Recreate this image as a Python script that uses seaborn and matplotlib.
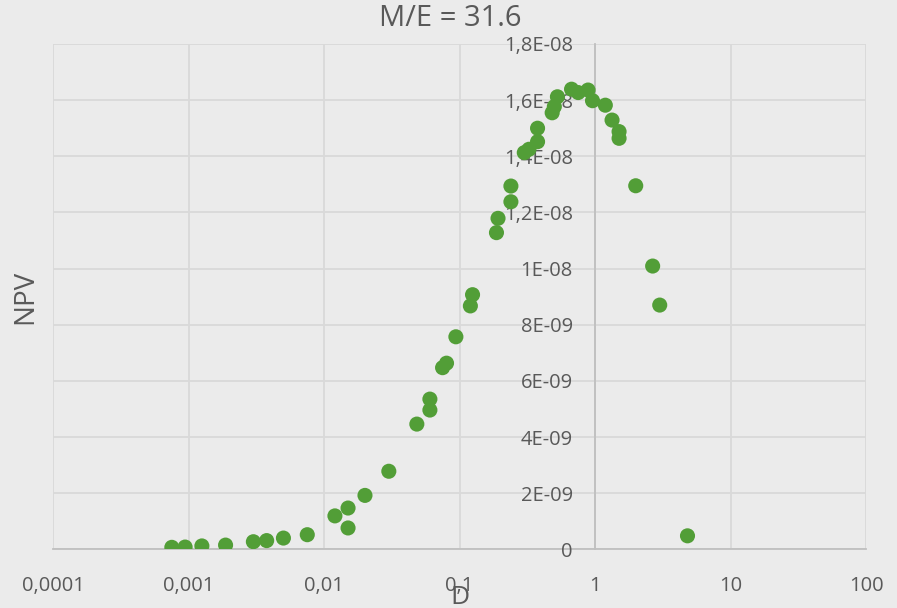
import matplotlib
matplotlib.use("Agg")
import matplotlib.pyplot as plt
import seaborn as sns
import pandas as pd
from matplotlib.ticker import FixedLocator, FixedFormatter

# Scatter data: D values and corresponding NPV
d_values = [0.00075, 0.00094, 0.00125, 0.00187, 0.0030, 0.00376, 0.0050, 0.0075,
            0.0120, 0.0150, 0.0150, 0.0200, 0.0300, 0.0483, 0.0603, 0.0603,
            0.0748, 0.0800, 0.0938, 0.120, 0.1245, 0.187, 0.192, 0.239, 0.239,
            0.300, 0.325, 0.376, 0.376, 0.482, 0.500, 0.527, 0.670, 0.750,
            0.887, 0.957, 1.19, 1.334, 1.503, 1.503, 1.995, 2.66, 3.0, 4.81]
npv_values = [0.07e-9, 0.08e-9, 0.12e-9, 0.15e-9, 0.27e-9, 0.31e-9, 0.40e-9, 0.52e-9,
              1.19e-9, 1.47e-9, 0.76e-9, 1.92e-9, 2.78e-9, 4.46e-9, 4.96e-9, 5.35e-9,
              6.47e-9, 6.63e-9, 7.57e-9, 8.67e-9, 9.07e-9, 11.28e-9, 11.79e-9, 12.38e-9, 12.94e-9,
              14.13e-9, 14.25e-9, 14.52e-9, 15.00e-9, 15.55e-9, 15.77e-9, 16.12e-9, 16.39e-9, 16.27e-9,
              16.36e-9, 15.98e-9, 15.82e-9, 15.29e-9, 14.88e-9, 14.64e-9, 12.95e-9, 10.09e-9, 8.70e-9, 0.48e-9]

x_ticks = [0.0001, 0.001, 0.01, 0.1, 1, 10, 100]
x_tick_labels = ["0,0001", "0,001", "0,01", "0,1", "1", "10", "100"]
y_ticks = [0, 2e-9, 4e-9, 6e-9, 8e-9, 1e-8, 1.2e-8, 1.4e-8, 1.6e-8, 1.8e-8]
y_tick_labels = ["0", "2E-09", "4E-09", "6E-09", "8E-09", "1E-08",
                 "1,2E-08", "1,4E-08", "1,6E-08", "1,8E-08"]

title = "M/E = 31.6"
x_label = "D"
y_label = "NPV"

sns.set_theme(style="white")
plt.rcParams["font.family"] = ["Open Sans", "DejaVu Sans"]

BG = "#ebebeb"
GRID = "#d9d9d9"
AXIS = "#bfbfbf"
TEXT = "#595959"
GREEN = "#529e37"

W, H = 897, 608
fig = plt.figure(figsize=(W / 100, H / 100), dpi=100, facecolor=BG)
left, right, bottom, top = 53.3, 866, 549.3, 44
ax = fig.add_axes([left / W, (H - bottom) / H, (right - left) / W, (bottom - top) / H])
ax.set_facecolor(BG)

df = pd.DataFrame({"D": d_values, "NPV": npv_values})

ax.set_xscale("log")
ax.set_xlim(x_ticks[0], x_ticks[-1])
ax.set_ylim(y_ticks[0], y_ticks[-1])

# Gridlines drawn beneath the markers
for xv in x_ticks:
    ax.axvline(xv, color=GRID, lw=1.3, zorder=0.3)
for yv in y_ticks:
    ax.axhline(yv, color=GRID, lw=1.3, zorder=0.3)

sns.scatterplot(data=df, x="D", y="NPV", ax=ax, color=GREEN, s=118,
                edgecolor="none", linewidth=0, zorder=2, legend=False)

# Value axis crosses the category axis at D = 1
for side in ("top", "right"):
    ax.spines[side].set_visible(False)
ax.spines["left"].set_position(("data", 1))
ax.spines["left"].set_color(AXIS)
ax.spines["left"].set_linewidth(1.3)
ax.spines["left"].set_zorder(0.5)
ax.spines["bottom"].set_color(AXIS)
ax.spines["bottom"].set_linewidth(1.3)
ax.spines["bottom"].set_zorder(0.5)

ax.xaxis.set_major_locator(FixedLocator(x_ticks))
ax.xaxis.set_major_formatter(FixedFormatter(x_tick_labels))
ax.xaxis.set_minor_locator(FixedLocator([]))
ax.yaxis.set_major_locator(FixedLocator(y_ticks))
ax.yaxis.set_major_formatter(FixedFormatter(y_tick_labels))
ax.tick_params(axis="x", length=0, pad=19, labelsize=14.5, labelcolor=TEXT)
ax.tick_params(axis="y", length=0, pad=16, labelsize=14.5, labelcolor=TEXT)
ax.set_xlabel("")
ax.set_ylabel("")

fig.text(450 / W, 1 - 18 / H, title, ha="center", va="center",
         fontsize=21, color=TEXT)
fig.text((left + right) / 2 / W, 1 - 597 / H, x_label, ha="center", va="center",
         fontsize=19, color=TEXT)
fig.text(25 / W, 1 - 297 / H, y_label, ha="center", va="center", rotation=90,
         fontsize=20, color=TEXT)

fig.savefig("out.png", dpi=100, facecolor=BG)
